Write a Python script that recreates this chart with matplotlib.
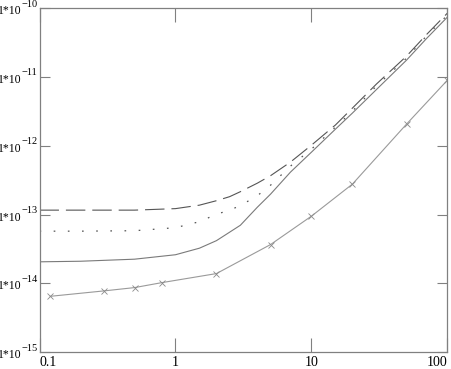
import matplotlib
matplotlib.use('Agg')
import matplotlib.pyplot as plt
import matplotlib.transforms as mtransforms

plt.rcParams['font.family'] = ['Liberation Serif', 'DejaVu Serif']
plt.rcParams['lines.scale_dashes'] = False

# curves
x_curves = [0.1, 0.2, 0.5, 1, 1.5, 2, 2.5, 3, 4, 5, 7, 10, 15, 20, 30, 50, 70, 100]
y_dashed = [1.16e-13, 1.16e-13, 1.16e-13, 1.22e-13, 1.37e-13, 1.59e-13,
            1.82e-13, 2.15e-13, 2.86e-13, 3.67e-13, 5.78e-13, 1.02e-12,
            2.0e-12, 3.52e-12, 7.85e-12, 2.0e-11, 4.1e-11, 8.45e-11]
y_dotted = [5.74e-14, 5.74e-14, 5.83e-14, 6.45e-14, 7.88e-14, 1.01e-13,
            1.16e-13, 1.35e-13, 1.88e-13, 2.67e-13, 5.05e-13, 8.93e-13,
            1.86e-12, 3.18e-12, 7.35e-12, 1.87e-11, 3.92e-11, 7.9e-11]
y_solid = [2.06e-14, 2.10e-14, 2.25e-14, 2.61e-14, 3.25e-14, 4.18e-14,
           5.55e-14, 7.0e-14, 1.28e-13, 1.98e-13, 4.13e-13, 8.07e-13,
           1.74e-12, 2.98e-12, 6.53e-12, 1.75e-11, 3.59e-11, 7.4e-11]

x_marked = [0.12, 0.3, 0.5, 0.8, 2, 5, 10, 20, 50, 100]
y_marked = [6.5e-15, 7.8e-15, 8.7e-15, 1.03e-14, 1.39e-14, 3.67e-14,
            9.5e-14, 2.77e-13, 2.06e-12, 8.97e-12]

x_ticks = [0.1, 1, 10, 100]
x_labels = ['0.1', '1', '10', '100']
y_exps = [-15, -14, -13, -12, -11, -10]

fig = plt.figure(figsize=(4.51, 3.69), dpi=100)
ax = fig.add_axes([0.0876, 0.0453, 0.9046, 0.933])

ax.plot(x_curves, y_dashed, color='#555555', lw=0.8, ls=(0, (14, 5)))
ax.plot(x_curves, y_dotted, color='#555555', lw=0.9, ls=(0, (1.2, 9)))
ax.plot(x_curves, y_solid, color='#7a7a7a', lw=0.8)
ax.plot(x_marked, y_marked, color='#9a9a9a', lw=0.8, marker='x', ms=4.5,
        mew=0.6, mec='#8a8a8a')

ax.set_xscale('log')
ax.set_yscale('log')
ax.set_xlim(0.1, 100)
ax.set_ylim(1e-15, 1e-10)

ax.set_xticks(x_ticks)
ax.set_xticklabels(x_labels)
ax.set_yticks([10.0 ** e for e in y_exps])
ax.set_yticklabels([])
ax.minorticks_off()

ax.tick_params(axis='y', direction='in', length=7, width=0.8, color='#808080',
               left=True, right=True)
ax.tick_params(axis='x', direction='in', length=10, width=0.8, color='#808080',
               top=True, bottom=True, pad=3, labelsize=10)

xl = ax.get_xticklabels()
xl[0].set_horizontalalignment('left')
xl[-1].set_horizontalalignment('right')

# y labels as "1*10" with a big raised exponent, like the original
blend = mtransforms.blended_transform_factory(ax.transAxes, ax.transData)
px = 1 / fig.dpi
for e in y_exps:
    t_base = blend + mtransforms.ScaledTranslation(-18 * px, -6 * px, fig.dpi_scale_trans)
    t_exp = blend + mtransforms.ScaledTranslation(-18.5 * px, 1.5 * px, fig.dpi_scale_trans)
    ax.text(0, 10.0 ** e, '1*10', transform=t_base, ha='right', va='baseline',
            fontsize=8.5)
    ax.text(0, 10.0 ** e, '\u2212%d' % -e, transform=t_exp, ha='left',
            va='baseline', fontsize=7.5)

for s in ax.spines.values():
    s.set_color('#808080')
    s.set_linewidth(0.9)

fig.savefig('out.png', dpi=100)
